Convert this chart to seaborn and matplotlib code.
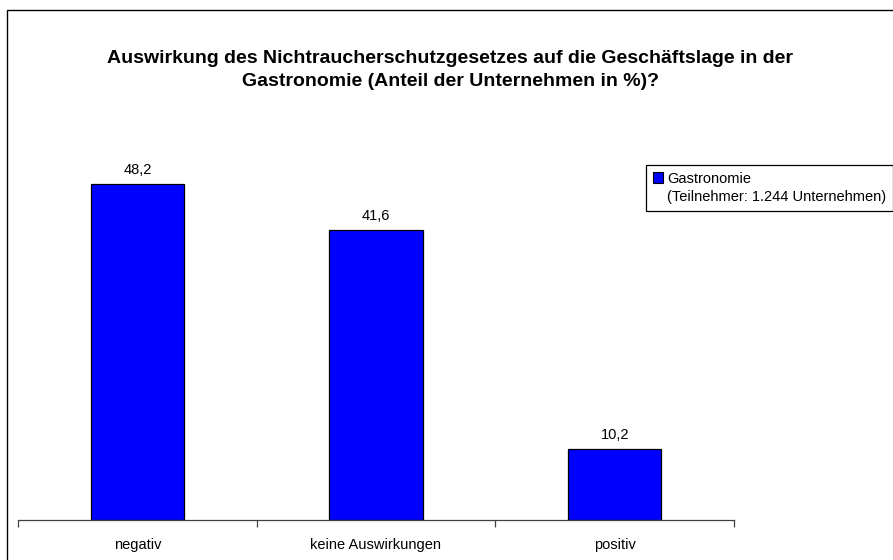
import matplotlib
matplotlib.use("Agg")
import matplotlib.pyplot as plt
from matplotlib.patches import Patch, Rectangle
import seaborn as sns

categories = ["negativ", "keine Auswirkungen", "positiv"]
values = [48.2, 41.6, 10.2]
series_name = "Gastronomie"
series_note = "(Teilnehmer: 1.244 Unternehmen)"
title = ("Auswirkung des Nichtraucherschutzgesetzes auf die Geschäftslage in der\n"
         "Gastronomie (Anteil der Unternehmen in %)?")

sns.set_style("white")
plt.rcParams["font.family"] = ["Liberation Sans", "DejaVu Sans"]
plt.rcParams["text.color"] = "black"

W, H = 893, 560
fig = plt.figure(figsize=(W / 100, H / 100), dpi=100)

# outer chart border (open to the right and bottom like the screenshot)
fig.patches.append(Rectangle((7 / W, -0.1), 1.2, 1 - 10 / H + 0.1, transform=fig.transFigure,
                             fill=False, edgecolor="black", linewidth=1.0))

ax = fig.add_axes([18 / W, 40 / H, 716 / W, 418 / H])
sns.barplot(x=categories, y=values, color="#0000ff", edgecolor="black", linewidth=0.9,
            width=0.39, saturation=1, ax=ax)
ax.set_xlim(-0.5, 2.5)
ax.set_ylim(0, 60)

labels = [f"{v:.1f}".replace(".", ",") for v in values]
ax.bar_label(ax.containers[0], labels=labels, padding=5, fontsize=10.5, color="black")

for side in ["left", "top", "right"]:
    ax.spines[side].set_visible(False)
ax.spines["bottom"].set_color("#404040")
ax.spines["bottom"].set_linewidth(0.9)
ax.set_yticks([])
ax.set_xlabel("")
ax.set_ylabel("")
ax.tick_params(axis="x", which="major", bottom=False, length=0, pad=13, labelsize=10.5,
               labelcolor="black")
ax.set_xticks([-0.5, 0.5, 1.5, 2.5], minor=True)
ax.tick_params(axis="x", which="minor", bottom=True, length=5, width=0.9, color="#404040",
               direction="out")

fig.text(450 / W, 1 - 70 / H, title, ha="center", va="center", fontsize=14,
         fontweight="bold", linespacing=1.5, color="black")

handles = [Patch(facecolor="#0000ff", edgecolor="black", linewidth=0.8),
           Patch(facecolor="none", edgecolor="none")]
leg = fig.legend(handles, [series_name, series_note], loc="upper left",
                 bbox_to_anchor=(646 / W, 1 - 165 / H), fontsize=10.5, frameon=True,
                 fancybox=False, framealpha=1, edgecolor="black", handlelength=0.7,
                 handleheight=0.7, handletextpad=0.3, labelspacing=0.3,
                 borderpad=0.45, borderaxespad=0)
leg.get_frame().set_linewidth(0.9)
for t in leg.get_texts():
    t.set_color("black")

fig.savefig("out.png", dpi=100)
